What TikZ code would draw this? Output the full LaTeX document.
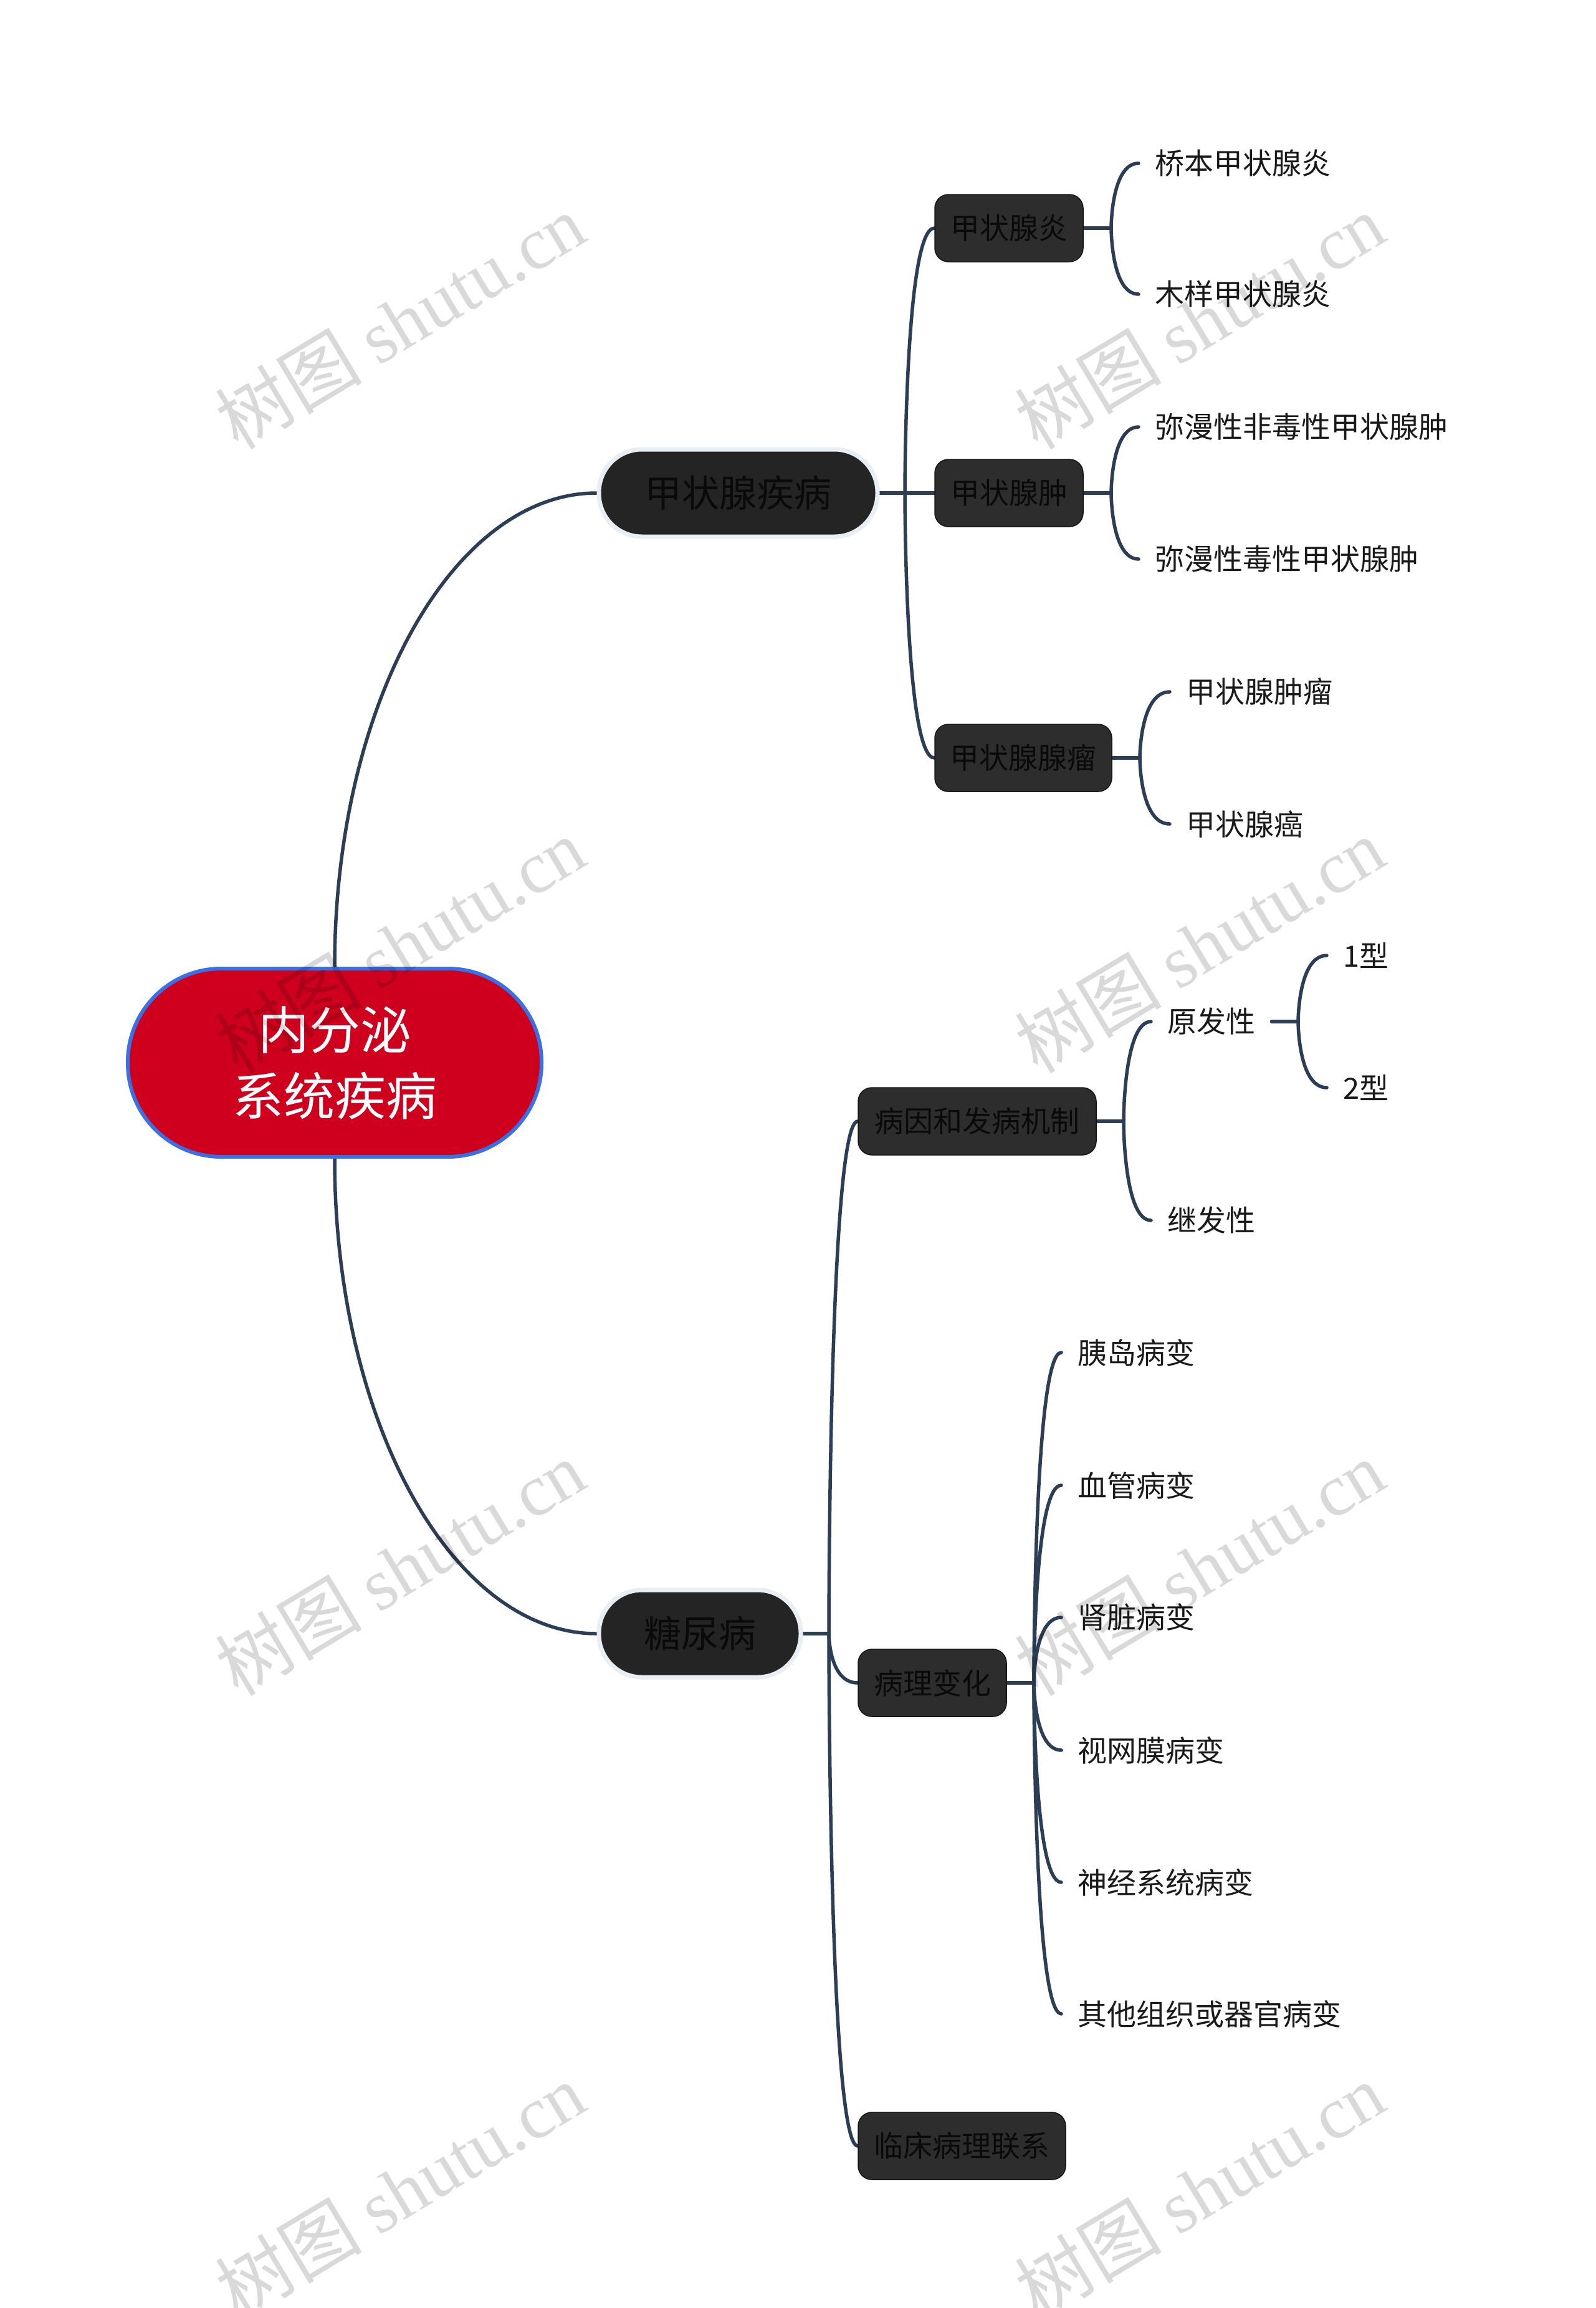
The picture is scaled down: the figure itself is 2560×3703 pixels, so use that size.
\documentclass[tikz,border=0pt]{standalone}
\usepackage{fontspec}
\setmainfont{Noto Sans CJK SC}
\newfontfamily\wmserif{Liberation Serif}
\usetikzlibrary{calc}
\definecolor{conncol}{RGB}{44,62,86}
\definecolor{rootred}{RGB}{206,0,30}
\definecolor{rootblue}{RGB}{58,112,230}
\definecolor{lonefill}{RGB}{36,36,36}
\definecolor{loneborder}{RGB}{232,238,243}
\definecolor{ltwofill}{RGB}{45,45,45}
\definecolor{ltwoborder}{RGB}{20,20,20}
\definecolor{nodetext}{RGB}{10,10,10}
\definecolor{leaftext}{RGB}{26,26,26}
\pgfdeclarelayer{bg}
\pgfsetlayers{bg,main}
\newcommand\mmbranch[2]{\draw[conn] (#1) .. controls (#1) and (#1 |- #2.west) .. (#2.west);}
\begin{document}
\begin{tikzpicture}[x=1pt,y=-1pt,
 conn/.style={draw=conncol,line width=5.5pt,line cap=round},
 rootnode/.style={draw=rootblue,line width=6pt,fill=rootred,rounded corners=150pt,minimum width=664pt,minimum height=302pt,inner sep=0pt,text=white,font=\fontsize{82}{106}\selectfont,align=center},
 lone/.style={draw=loneborder,line width=7pt,fill=lonefill,rounded corners=69pt,minimum height=140pt,inner sep=0pt,text=nodetext,font=\fontsize{60}{72}\selectfont},
 ltwo/.style={draw=ltwoborder,line width=1.5pt,fill=ltwofill,rounded corners=22pt,minimum height=108pt,inner sep=0pt,text=nodetext,font=\fontsize{47}{56}\selectfont},
 leaf/.style={anchor=west,inner xsep=26pt,inner ysep=0pt,text=leaftext,font=\fontsize{47}{56}\selectfont},
 wm/.style={rotate=31,text=black,text opacity=0.15,font=\fontsize{118}{118}\selectfont}
]
\begin{pgfonlayer}{bg}
\fill[white] (0,0) rectangle (2560,3703);
\end{pgfonlayer}
\useasboundingbox (0,0) rectangle (2560,3703);

% root and main branches
\node[rootnode] (root) at (537,1705) {内分泌\\系统疾病};
\node[lone,minimum width=447pt] (t) at (1184.5,791) {甲状腺疾病};
\node[lone,minimum width=324pt] (d) at (1123,2621) {糖尿病};

% second level
\node[ltwo,minimum width=238pt] (t1) at (1619,366) {甲状腺炎};
\node[ltwo,minimum width=238pt] (t2) at (1619,791) {甲状腺肿};
\node[ltwo,minimum width=284pt] (t3) at (1642,1216) {甲状腺腺瘤};
\node[ltwo,minimum width=382pt] (d1) at (1568,1799) {病因和发病机制};
\node[ltwo,minimum width=238pt] (d2) at (1496,2700) {病理变化};
\node[ltwo,minimum width=333pt] (d3) at (1543.5,3443) {临床病理联系};

% leaves
\node[leaf] (t1a) at (1827,262) {桥本甲状腺炎};
\node[leaf] (t1b) at (1827,472) {木样甲状腺炎};
\node[leaf] (t2a) at (1827,685) {弥漫性非毒性甲状腺肿};
\node[leaf] (t2b) at (1827,897) {弥漫性毒性甲状腺肿};
\node[leaf] (t3a) at (1877,1110) {甲状腺肿瘤};
\node[leaf] (t3b) at (1877,1322) {甲状腺癌};
\node[leaf] (d1a) at (1847,1639) {原发性};
\node[leaf] (d1b) at (1847,1958) {继发性};
\node[leaf] (d1a1) at (2129,1533) {1型};
\node[leaf] (d1a2) at (2129,1745) {2型};
\node[leaf] (d2a) at (1703,2170) {胰岛病变};
\node[leaf] (d2b) at (1703,2383) {血管病变};
\node[leaf] (d2c) at (1703,2595) {肾脏病变};
\node[leaf] (d2d) at (1703,2808) {视网膜病变};
\node[leaf] (d2e) at (1703,3020) {神经系统病变};
\node[leaf] (d2f) at (1703,3231) {其他组织或器官病变};

% junctions
\coordinate (jt) at (1452,791);
\coordinate (jt1) at (1783,366);
\coordinate (jt2) at (1783,791);
\coordinate (jt3) at (1829,1216);
\coordinate (jd) at (1330,2621);
\coordinate (jd1) at (1803,1799);
\coordinate (jd1a) at (2083,1639);
\coordinate (jd2) at (1659,2700);

\begin{pgfonlayer}{bg}
\draw[conn] (root.north) .. controls ($(root.north)!0.552!(root.north |- t.west)$) and ($(t.west)!0.552!(root.north |- t.west)$) .. (t.west);
\draw[conn] (root.south) .. controls ($(root.south)!0.552!(root.south |- d.west)$) and ($(d.west)!0.552!(root.south |- d.west)$) .. (d.west);

\draw[conn] (t.east) -- (jt);
\mmbranch{jt}{t1}
\mmbranch{jt}{t2}
\mmbranch{jt}{t3}

\draw[conn] (t1.east) -- (jt1);
\mmbranch{jt1}{t1a}
\mmbranch{jt1}{t1b}
\draw[conn] (t2.east) -- (jt2);
\mmbranch{jt2}{t2a}
\mmbranch{jt2}{t2b}
\draw[conn] (t3.east) -- (jt3);
\mmbranch{jt3}{t3a}
\mmbranch{jt3}{t3b}

\draw[conn] (d.east) -- (jd);
\mmbranch{jd}{d1}
\mmbranch{jd}{d2}
\mmbranch{jd}{d3}

\draw[conn] (d1.east) -- (jd1);
\mmbranch{jd1}{d1a}
\mmbranch{jd1}{d1b}
\draw[conn] (d1a.east) -- (jd1a);
\mmbranch{jd1a}{d1a1}
\mmbranch{jd1a}{d1a2}

\draw[conn] (d2.east) -- (jd2);
\mmbranch{jd2}{d2a}
\mmbranch{jd2}{d2b}
\mmbranch{jd2}{d2c}
\mmbranch{jd2}{d2d}
\mmbranch{jd2}{d2e}
\mmbranch{jd2}{d2f}
\end{pgfonlayer}

% watermarks
\node[wm] (wm1) at (642,515) {树图 {\wmserif shutu.cn}};
\node[wm] (wm2) at (1925,515) {树图 {\wmserif shutu.cn}};
\node[wm] (wm3) at (642,1516) {树图 {\wmserif shutu.cn}};
\node[wm] (wm4) at (1925,1516) {树图 {\wmserif shutu.cn}};
\node[wm] (wm5) at (642,2515) {树图 {\wmserif shutu.cn}};
\node[wm] (wm6) at (1925,2515) {树图 {\wmserif shutu.cn}};
\node[wm] (wm7) at (642,3514) {树图 {\wmserif shutu.cn}};
\node[wm] (wm8) at (1925,3514) {树图 {\wmserif shutu.cn}};
\end{tikzpicture}
\end{document}
